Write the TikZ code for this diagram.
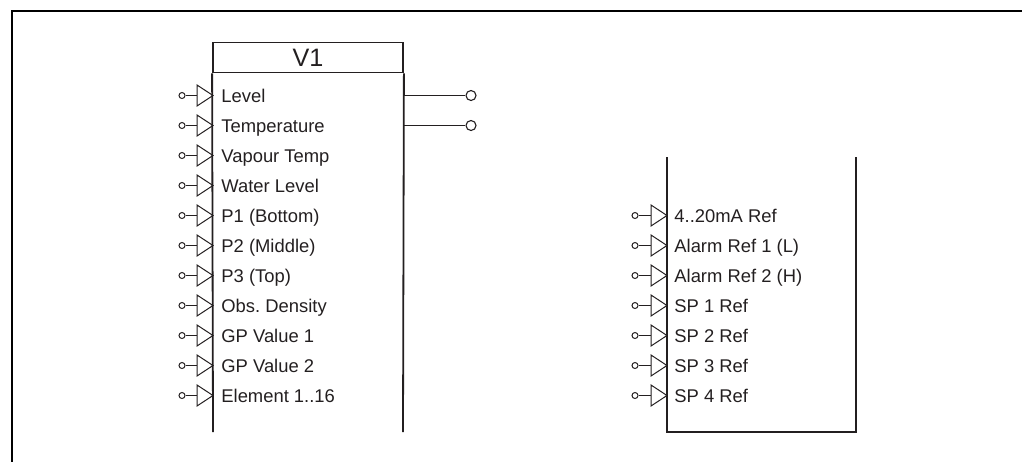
\documentclass[tikz,border=0pt]{standalone}
\usepackage{fontspec}
\setmainfont{Liberation Sans}
\usepackage{xcolor}
\usepackage{tikz}
\usetikzlibrary{positioning}
\definecolor{ink}{RGB}{35,31,32}
\frenchspacing

\tikzset{
  port/.style={draw=ink, circle, inner sep=0pt, minimum size=3pt, line width=0.5pt},
  outport/.style={draw=ink, circle, inner sep=0pt, minimum size=5pt, line width=0.55pt, fill=white},
  wire/.style={draw=ink, line width=0.6pt},
  pin/.style={draw=ink, line width=0.5pt},
  frame/.style={draw=ink, line width=0.9pt},
  sig/.style={anchor=base west, inner sep=0pt, text=ink, font=\fontsize{9.2}{11}\selectfont}
}

\begin{document}
\begin{tikzpicture}[x=0.5pt, y=-0.5pt]
  \useasboundingbox (0,0) rectangle (1022,462);
  \draw[line width=1.2pt] (1022,11) -- (12,11) -- (12,462);

  \node[draw=ink, line width=0.9pt, minimum width=95pt, minimum height=15pt, inner sep=0pt,
        font=\fontsize{12.6}{14}\selectfont, text=ink] (vone) at (308,57.5) {V1};
  \coordinate (vbl) at (213,432);
  \coordinate (vbr) at (403,432);
  \draw[frame] (vone.south west) -- (vbl);
  \draw[frame] (vone.south east) -- (vbr);

  \foreach \txt [count=\i] in {Level, Temperature, Vapour Temp, Water Level, P1 (Bottom),
      P2 (Middle), P3 (Top), Obs. Density, GP Value 1, GP Value 2, Element 1..16} {
    \pgfmathsetmacro{\y}{65.5+30*\i}
    \node[port] (vin\i) at (182,\y) {};
    \coordinate (vtb\i) at (197,\y);
    \draw[wire] (vin\i) -- (vtb\i);
    \draw[pin] (197,\y-10.5) -- (213,\y) -- (197,\y+10.5) -- cycle;
    \node[sig] (vlb\i) at (221,\y+6.6) {\txt};
  }

  \foreach \i in {1,2} {
    \pgfmathsetmacro{\y}{65.5+30*\i}
    \coordinate (vout\i) at (403,\y);
    \node[outport] (vop\i) at (471,\y) {};
    \draw[wire] (vout\i) -- (vop\i);
  }

  \coordinate (rtl) at (667,157);
  \coordinate (rbl) at (667,432);
  \coordinate (rbr) at (856,432);
  \coordinate (rtr) at (856,157);
  \draw[frame] (rtl) -- (rbl) -- (rbr) -- (rtr);

  \foreach \txt [count=\i] in {4..20mA Ref, Alarm Ref 1 (L), Alarm Ref 2 (H),
      SP 1 Ref, SP 2 Ref, SP 3 Ref, SP 4 Ref} {
    \pgfmathsetmacro{\y}{185.5+30*\i}
    \node[port] (rin\i) at (635,\y) {};
    \coordinate (rtb\i) at (651,\y);
    \draw[wire] (rin\i) -- (rtb\i);
    \draw[pin] (651,\y-10.5) -- (667,\y) -- (651,\y+10.5) -- cycle;
    \node[sig] (rlb\i) at (674,\y+6.6) {\txt};
  }
\end{tikzpicture}
\end{document}
